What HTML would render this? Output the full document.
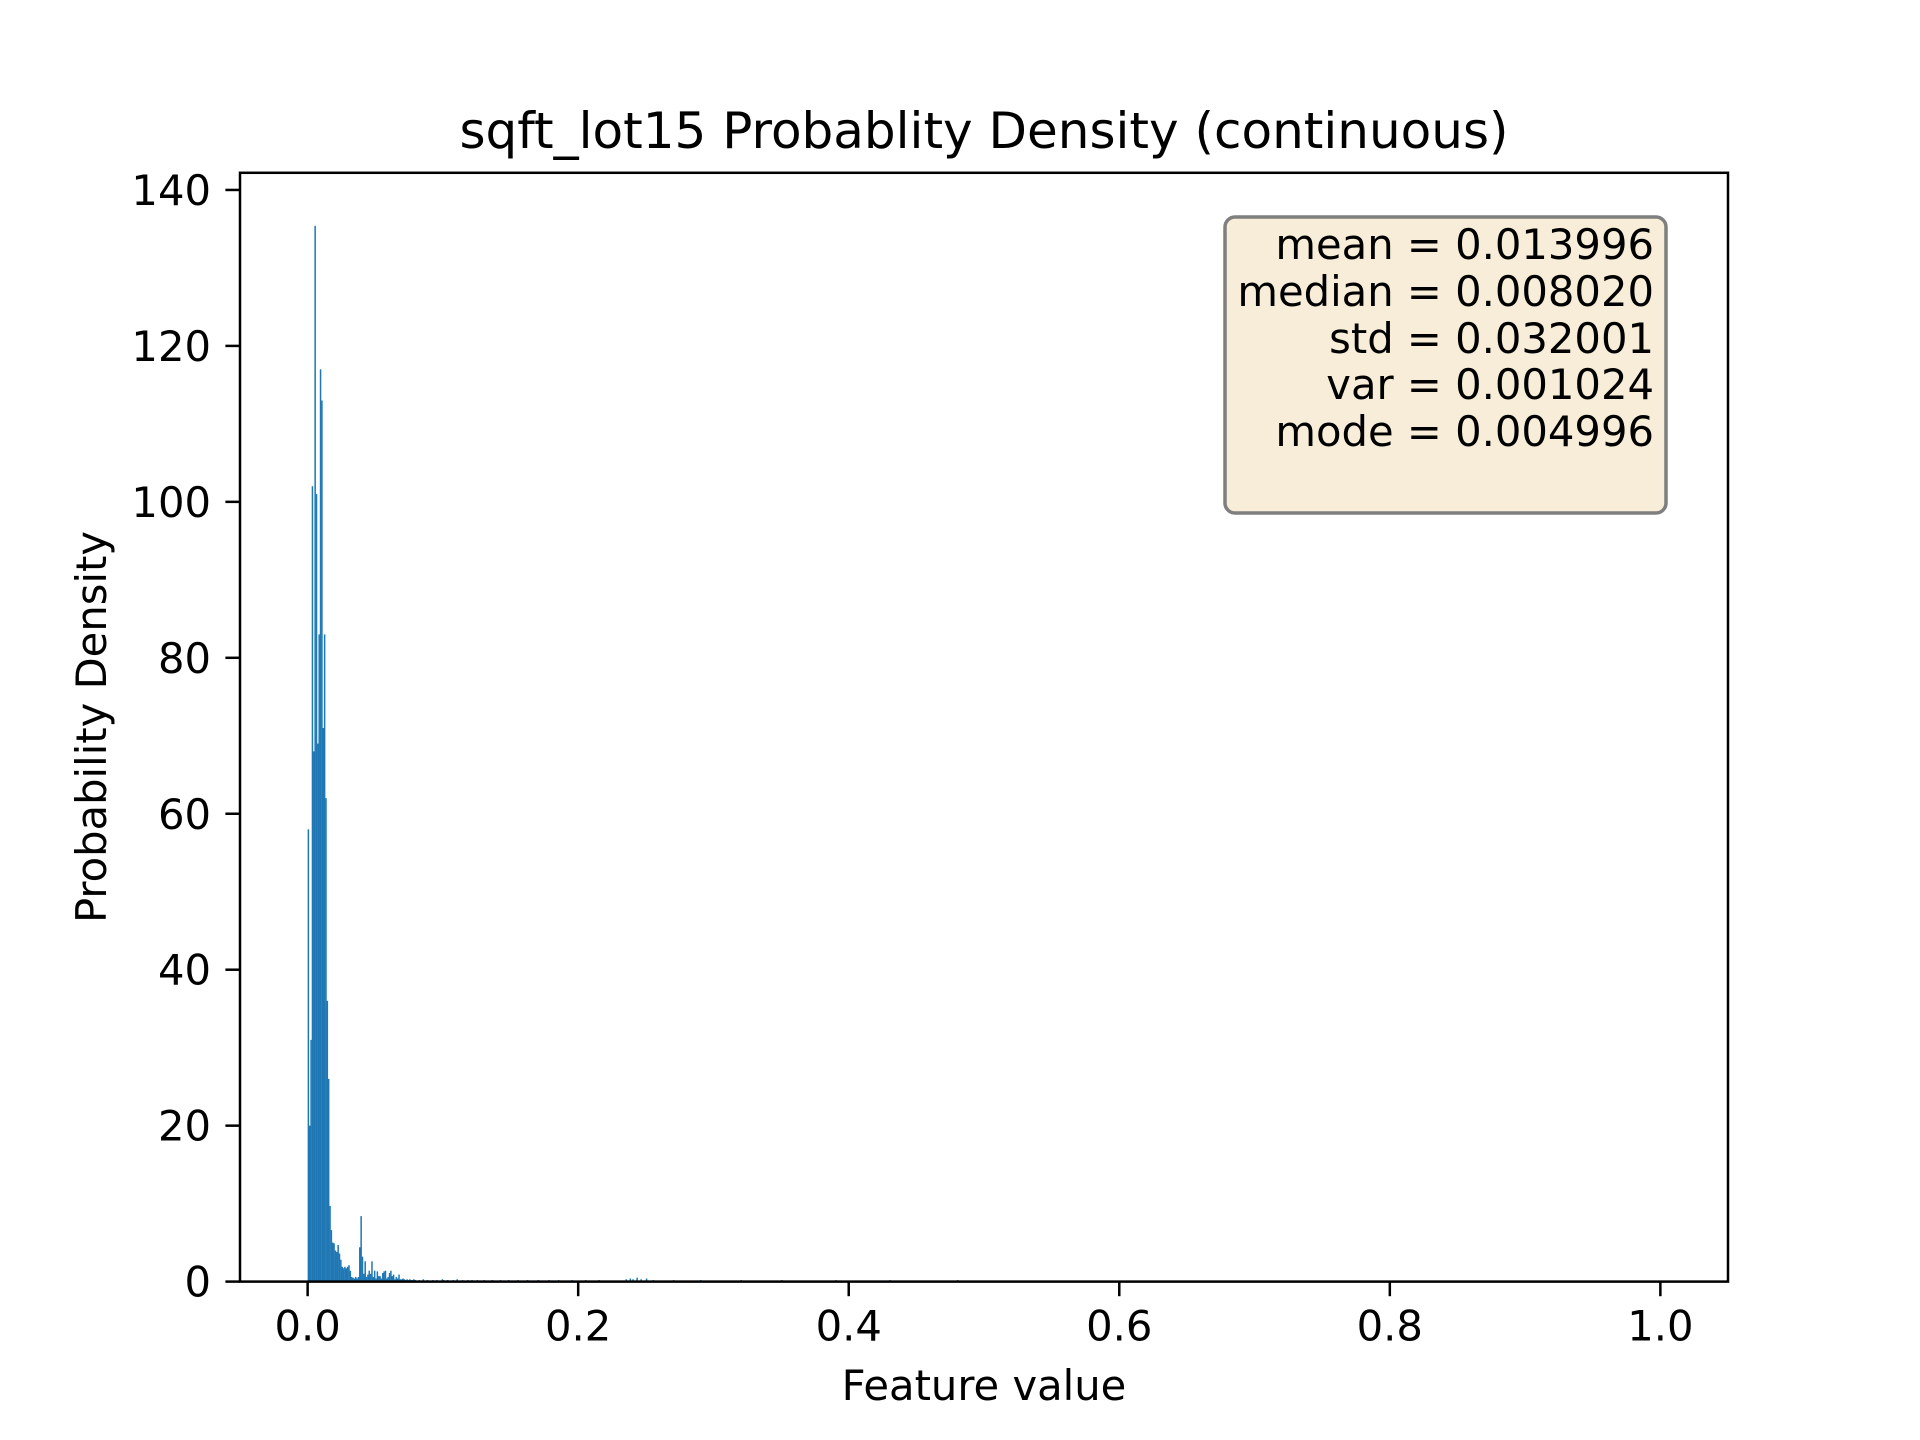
<!DOCTYPE html>
<html><head><meta charset="utf-8"><style>
html,body{margin:0;padding:0;background:#fff;}
svg{display:block;font-family:"DejaVu Sans","Liberation Sans",sans-serif;}
</style></head><body>
<svg id="chart" width="1920" height="1440" viewBox="0 0 1920 1440">
<rect width="1920" height="1440" fill="#fff"/>
<text x="984" y="148" font-size="50" text-anchor="middle">sqft_lot15 Probablity Density (continuous)</text>
<g id="bars"></g>
<g id="xticks"></g>
<g id="yticks"></g>
<rect x="240" y="172.8" width="1488" height="1108.8" fill="none" stroke="#000" stroke-width="2.5"/>
<text x="984" y="1400" font-size="41.7" text-anchor="middle">Feature value</text>
<text transform="translate(106,727) rotate(-90)" font-size="41.7" text-anchor="middle">Probability Density</text>
<g>
<rect x="1225" y="217" width="441" height="296" rx="10" fill="#f7edd8" stroke="#7f7f7f" stroke-width="3.5"/>
<g font-size="41.7" text-anchor="end">
<text x="1654" y="259">mean = 0.013996</text>
<text x="1654" y="306">median = 0.008020</text>
<text x="1654" y="353">std = 0.032001</text>
<text x="1654" y="399">var = 0.001024</text>
<text x="1654" y="446">mode = 0.004996</text>
</g></g>
</svg>
<script>
const binWidth = 0.001;
const mainValues = [58, 20, 31, 102, 68, 135.4, 101, 69, 83, 117, 113, 71, 83, 62, 36, 26, 9.7, 6.6, 5, 4.9, 4, 3.8, 4.7, 3.6, 2.8, 1.9, 1.7, 1.9, 1.7, 1.9, 2.1, 1.4, 0.6, 0.5, 0.4, 0.6, 0.4, 0.6, 4.4, 8.4, 3.2, 1, 2.6, 0.6, 0.9, 1.4, 1, 2.6, 0.6, 1.4, 0.4, 1.3, 0.7, 0.7, 0.4, 1.1, 1.3, 1.4, 0.4, 0.6, 1.1, 1.4, 0.7, 0.9, 0.3, 0.6, 0.4, 0.9, 0.3, 0.3, 0.4, 0.3, 0.2, 0.3, 0.2, 0.3, 0.2, 0.2, 0.3, 0.2];
const tailBins = [82, 85, 88, 92, 95, 99, 100, 103, 107, 110, 114, 118, 121, 125, 130, 136, 142, 148, 155, 162, 170, 178, 185, 195, 205, 215, 235, 238, 240, 243, 246, 250, 255, 270, 290, 320, 350, 390, 430, 480];
const tailValues = [0.2, 0.3, 0.2, 0.2, 0.2, 0.3, 0.2, 0.2, 0.2, 0.3, 0.2, 0.2, 0.2, 0.2, 0.2, 0.2, 0.2, 0.2, 0.2, 0.2, 0.2, 0.2, 0.2, 0.2, 0.2, 0.2, 0.3, 0.4, 0.3, 0.5, 0.3, 0.4, 0.2, 0.2, 0.2, 0.2, 0.2, 0.2, 0.2, 0.2];
const xTicks = [0.0, 0.2, 0.4, 0.6, 0.8, 1.0];
const xTickLabels = ["0.0", "0.2", "0.4", "0.6", "0.8", "1.0"];
const yTicks = [0, 20, 40, 60, 80, 100, 120, 140];
const yTickLabels = ["0", "20", "40", "60", "80", "100", "120", "140"];

const NS = "http://www.w3.org/2000/svg";
const X0 = 240, X1 = 1728, Y0 = 1281.6, Y1 = 172.8;
const xMin = -0.05, xMax = 1.05, yMin = 0, yMax = 142.2;
function xs(v){ return X0 + (v - xMin) / (xMax - xMin) * (X1 - X0); }
function ys(v){ return Y0 - (v - yMin) / (yMax - yMin) * (Y0 - Y1); }

const barsG = document.getElementById('bars');
function addBar(i, v, name){
  const x = xs(i * binWidth), w = xs((i + 1) * binWidth) - x;
  const r = document.createElementNS(NS, 'rect');
  r.setAttribute('x', x); r.setAttribute('width', w + 0.15);
  r.setAttribute('y', ys(v)); r.setAttribute('height', ys(0) - ys(v));
  r.setAttribute('fill', '#1f77b4');
  
  
  barsG.appendChild(r);
}
mainValues.forEach((v, i) => addBar(i, v, 'histogram-bar'));
tailBins.forEach((b, k) => addBar(b, tailValues[k], 'histogram-tail-bar'));

const xg = document.getElementById('xticks');
xTicks.forEach((t, k) => {
  const x = xs(t);
  const l = document.createElementNS(NS, 'line');
  l.setAttribute('x1', x); l.setAttribute('x2', x); l.setAttribute('y1', Y0); l.setAttribute('y2', Y0 + 14.6);
  l.setAttribute('stroke', '#000'); l.setAttribute('stroke-width', '2.5');
  
  
  xg.appendChild(l);
  const tx = document.createElementNS(NS, 'text');
  tx.setAttribute('x', x); tx.setAttribute('y', Y0 + 59);
  tx.setAttribute('font-size', '41.7'); tx.setAttribute('text-anchor', 'middle');
  tx.textContent = xTickLabels[k];
  
  
  xg.appendChild(tx);
});
const yg = document.getElementById('yticks');
yTicks.forEach((t, k) => {
  const y = ys(t);
  const l = document.createElementNS(NS, 'line');
  l.setAttribute('x1', X0 - 14.6); l.setAttribute('x2', X0); l.setAttribute('y1', y); l.setAttribute('y2', y);
  l.setAttribute('stroke', '#000'); l.setAttribute('stroke-width', '2.5');
  
  
  yg.appendChild(l);
  const tx = document.createElementNS(NS, 'text');
  tx.setAttribute('x', X0 - 29); tx.setAttribute('y', y + 15);
  tx.setAttribute('font-size', '41.7'); tx.setAttribute('text-anchor', 'end');
  tx.textContent = yTickLabels[k];
  
  
  yg.appendChild(tx);
});
</script>
</body></html>
